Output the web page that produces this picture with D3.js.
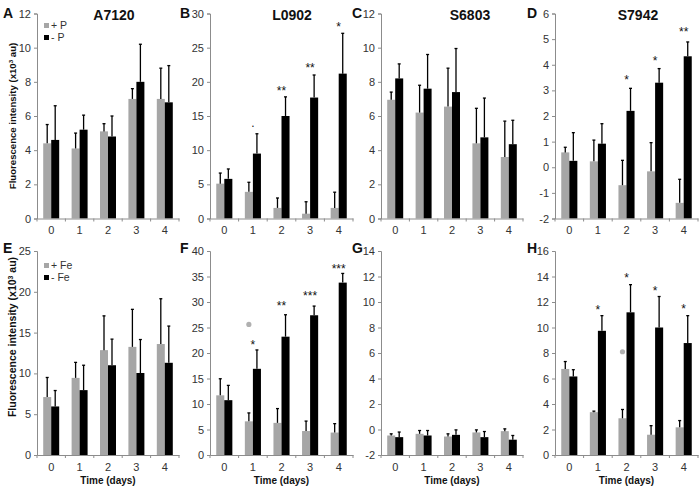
<!DOCTYPE html>
<html><head><meta charset="utf-8">
<script src="https://cdn.jsdelivr.net/npm/d3@7"></script>
<style>body{margin:0;background:#fff}svg{display:block}text{font-family:"Liberation Sans",Arial,sans-serif}</style>
</head><body><svg id="c" width="699" height="490"></svg>
<script>
const days = [0, 1, 2, 3, 4];
const letters = ["A","B","C","D","E","F","G","H"];
const titles = ["A7120","L0902","S6803","S7942","","","",""];
const yMin = [0, 0, 0, -2, 0, 0, -2, 0];
const yMax = [12, 30, 12, 6, 25, 40, 14, 16];
const yStep = [2, 5, 2, 1, 5, 5, 2, 2];

// + nutrient (grey) and - nutrient (black): means and SD (upper error bar)
const plusVals = [
  [4.4, 4.1, 5.1, 7.0, 7.0],
  [5.1, 3.9, 1.55, 0.7, 1.55],
  [6.95, 6.2, 6.55, 4.4, 3.6],
  [0.58, 0.23, -0.7, -0.16, -1.39],
  [7.1, 9.45, 12.85, 13.25, 13.6],
  [11.7, 6.6, 6.3, 4.7, 4.4],
  [-0.47, -0.34, -0.55, -0.23, -0.13],
  [6.75, 3.36, 2.88, 1.59, 2.17]
];
const plusSD = [
  [1.1, 0.9, 0.45, 0.6, 1.8],
  [1.55, 1.4, 1.45, 1.75, 2.3],
  [0.45, 1.6, 2.25, 2.05, 2.1],
  [0.2, 0.83, 0.97, 1.12, 0.92],
  [2.4, 1.9, 4.2, 4.6, 5.55],
  [3.25, 1.65, 2.8, 1.95, 1.75],
  [0.13, 0.26, 0.21, 0.2, 0.18],
  [0.58, 0.08, 0.69, 0.71, 0.53]
];
const minusVals = [
  [4.6, 5.2, 4.8, 8.0, 6.8],
  [5.8, 9.5, 15.0, 17.7, 21.2],
  [8.2, 7.6, 7.4, 4.75, 4.35],
  [0.25, 0.92, 2.2, 3.3, 4.33],
  [5.95, 7.95, 11.0, 10.05, 11.3],
  [10.75, 16.9, 23.2, 27.4, 33.8],
  [-0.6, -0.47, -0.42, -0.6, -0.8],
  [6.16, 9.74, 11.19, 10.0, 8.78]
];
const minusSD = [
  [2.0, 0.85, 1.2, 2.2, 2.15],
  [1.45, 2.9, 2.8, 3.3, 5.9],
  [0.85, 2.0, 2.55, 2.3, 1.4],
  [1.1, 0.78, 0.88, 0.55, 0.56],
  [1.95, 3.05, 3.2, 4.1, 4.5],
  [2.9, 3.7, 4.3, 1.8, 1.8],
  [0.4, 0.39, 0.39, 0.44, 0.33],
  [0.53, 1.19, 2.17, 2.43, 2.15]
];
// significance marks: [panel, day, label, value]
const marks = [
  [1, 1, ".", 13.7], [1, 2, "**", 19.1], [1, 3, "**", 22.4], [1, 4, "*", 28.4],
  [3, 2, "*", 3.54], [3, 3, "*", 4.28], [3, 4, "**", 5.4],
  [5, 1, "*", 22.2], [5, 2, "**", 29.8], [5, 3, "***", 31.8], [5, 4, "***", 37.1],
  [7, 1, "*", 11.6], [7, 2, "*", 14.1], [7, 3, "*", 13.1], [7, 4, "*", 11.7]
];
// grey dots: [panel, day, value]
const dots = [[5, 1, 25.6], [7, 2, 8.1]];
const legendTop = ["+ P", "- P"];
const legendBottom = ["+ Fe", "- Fe"];
const series = ["plus", "minus"];
const colors = {plus: "#a6a6a6", minus: "#000000"};

const svg = d3.select("#c");
const colX = [[37, 179], [210, 353], [381, 523], [555, 698]];
const rowY = [[218.5, 13.5], [455, 251]];
const titleX = [114, 292, 470, 638];
const letterX = [3, 180, 352, 527];
const letterY = [18, 253];
const axisCol = "#8c8c8c", textCol = "#333";

for (let p = 0; p < 8; p++) {
  const col = p % 4, row = Math.floor(p / 4);
  const g = svg.append("g");
  const x = d3.scaleBand().domain(days).range(colX[col]).paddingInner(0.437).paddingOuter(0.2185);
  const xs = d3.scaleBand().domain(series).range([0, x.bandwidth()]);
  const y = d3.scaleLinear().domain([yMin[p], yMax[p]]).range(rowY[row]);
  const base = y(yMin[p]);
  const data = days.map((d, i) => ({day: d, plus: plusVals[p][i], plusSD: plusSD[p][i], minus: minusVals[p][i], minusSD: minusSD[p][i]}));

  // y axis
  const ya = g.append("g").attr("transform", `translate(${colX[col][0]},0)`)
    .call(d3.axisLeft(y).tickValues(d3.range(yMin[p], yMax[p] + yStep[p] / 2, yStep[p])).tickSize(3).tickPadding(3).tickFormat(d => String(d)));
  ya.select(".domain").attr("stroke", axisCol);
  ya.selectAll(".tick line").attr("stroke", axisCol);
  ya.selectAll(".tick text").attr("fill", textCol).style("font-size", "11px").style("font-family", "Liberation Sans, Arial, sans-serif");

  // bars
  series.forEach(s => {
    g.selectAll(null).data(data).join("rect")
      .attr("x", d => x(d.day) + xs(s))
      .attr("width", xs.bandwidth())
      .attr("y", d => y(d[s]))
      .attr("height", d => base - y(d[s]))
      .attr("fill", colors[s]);
    // error bars (upper only)
    const eb = g.selectAll(null).data(data).join("g").attr("stroke", "#000").attr("stroke-width", 1.3);
    eb.append("line")
      .attr("x1", d => x(d.day) + xs(s) + xs.bandwidth() / 2)
      .attr("x2", d => x(d.day) + xs(s) + xs.bandwidth() / 2)
      .attr("y1", d => y(d[s]))
      .attr("y2", d => y(d[s] + d[s + "SD"]));
    eb.append("line")
      .attr("x1", d => x(d.day) + xs(s) + xs.bandwidth() / 2 - 1.5)
      .attr("x2", d => x(d.day) + xs(s) + xs.bandwidth() / 2 + 1.5)
      .attr("y1", d => y(d[s] + d[s + "SD"]))
      .attr("y2", d => y(d[s] + d[s + "SD"]));
  });

  // x axis
  const xa = g.append("g").attr("transform", `translate(0,${base})`)
    .call(d3.axisBottom(x).tickSize(0).tickPadding(8).tickFormat(d => String(d)));
  xa.select(".domain").attr("stroke", axisCol);
  xa.selectAll(".tick text").attr("fill", textCol).style("font-size", "11px").style("font-family", "Liberation Sans, Arial, sans-serif");
  g.selectAll(null).data(d3.range(days.length + 1)).join("line")
    .attr("x1", i => x.range()[0] + i * x.step()).attr("x2", i => x.range()[0] + i * x.step())
    .attr("y1", base).attr("y2", base + 3).attr("stroke", axisCol);

  // marks
  g.selectAll(null).data(marks.filter(m => m[0] === p)).join("text")
    .attr("x", m => x(m[1]) + x.bandwidth() / 2)
    .attr("y", m => y(m[3]) + (m[2] === "." ? 2 : 7))
    .attr("text-anchor", "middle")
    .attr("fill", "#111")
    .style("font-size", "12px")
    .text(m => m[2]);
  g.selectAll(null).data(dots.filter(m => m[0] === p)).join("circle")
    .attr("cx", m => x(m[1]) + xs("plus") + xs.bandwidth() / 2)
    .attr("cy", m => y(m[2]))
    .attr("r", 2.6)
    .attr("fill", "#b0b0b0");

  // title & letter
  if (titles[p]) g.append("text").attr("x", titleX[col]).attr("y", 20).attr("text-anchor", "middle")
    .style("font-size", "14px").style("font-weight", "bold").attr("fill", "#111").text(titles[p]);
  g.append("text").attr("x", letterX[col]).attr("y", letterY[row])
    .style("font-size", "14px").style("font-weight", "bold").attr("fill", "#111").text(letters[p]);

  if (row === 1) {
    g.append("text").attr("x", (colX[col][0] + colX[col][1]) / 2).attr("y", 484).attr("text-anchor", "middle")
      .style("font-size", "10px").style("font-weight", "bold").attr("fill", "#111").text("Time (days)");
  }
  if (col === 0) {
    const cy = row === 0 ? 116 : 337;
    const fs = row === 0 ? 9.6 : 10.5;
    const t = g.append("text").attr("transform", `translate(15.5,${cy}) rotate(-90)`).attr("text-anchor", "middle")
      .style("font-size", fs + "px").style("font-weight", "bold").attr("fill", "#111");
    t.append("tspan").text("Fluorescence intensity (x10");
    t.append("tspan").attr("baseline-shift", "super").style("font-size", (fs * 0.65) + "px").text("3");
    t.append("tspan").text(" au)");
    const labels = row === 0 ? legendTop : legendBottom;
    const ly0 = row === 0 ? 25.5 : 265.5;
    const lg = g.selectAll(null).data(series).join("g")
      .attr("transform", (s, i) => `translate(44,${ly0 + i * 12})`);
    lg.append("rect").attr("x", 0).attr("y", -2.5).attr("width", 5).attr("height", 5).attr("fill", s => colors[s]);
    lg.append("text").attr("x", 7).attr("y", 3.8).style("font-size", "10.5px").attr("fill", textCol)
      .text((s, i) => labels[i]);
  }
}
</script></body></html>
